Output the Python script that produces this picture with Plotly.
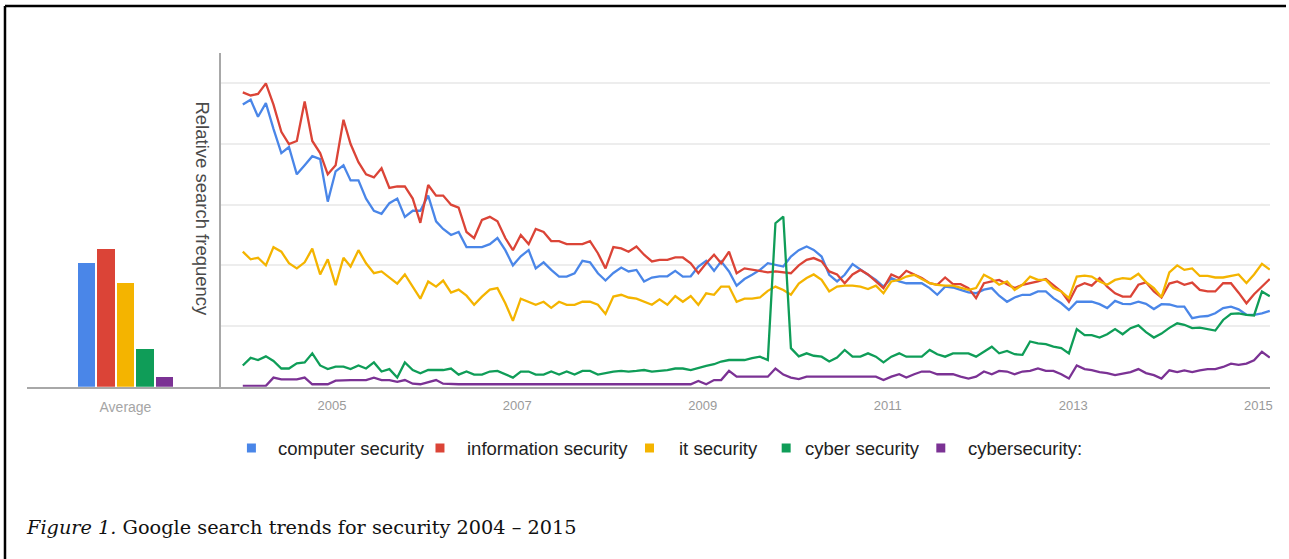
import plotly.graph_objects as go

W, H = 1289, 559

# ---------------- data (monthly, Jan 2004 - Feb 2015) ----------------
months = [f"{2004 + k // 12}-{k % 12 + 1:02d}-15" for k in range(134)]

computer_security = [
    93, 94.6, 89, 93.5, 85, 77, 79, 70, 73, 76, 75, 61, 71, 73, 68, 68, 62, 58, 57, 60.5, 62, 56, 58, 58, 63,
    54.5, 52, 50, 51, 46, 46, 46, 47, 49, 45, 40, 43, 45, 39, 41, 38.5, 36.3, 36.3, 37.4, 41.5, 41, 37.4, 35, 37.5,
    39.3, 38, 38.5, 34.7, 36, 36.4, 36.4, 38.2, 36.3, 36.4, 39.6, 41.5, 38.2, 41.3, 38, 33.3, 35.5, 36.9, 38.5, 40.7, 40.2, 39.6, 42.9,
    45, 46.2, 45.1, 42.9, 36.9, 34.7, 36.9, 40.4, 38.5, 36.9, 35.2, 33, 35.8, 34.7, 34.1, 34.1, 34.1, 32.5, 30.3, 33, 32.7, 31.9, 31.1, 30.8,
    32, 32.5, 30, 28, 29.4, 30.3, 30.3, 31.4, 31.4, 29.2, 27.5, 25.3, 28, 28, 28, 27.2, 25.9, 28.3, 27.3, 27.2, 28, 27.3, 25.6, 27.2, 27.1,
    26.4, 26.4, 22.6, 23.1, 23.3, 24.2, 25.9, 26.4, 25.5, 23.7, 23.7, 24.2, 25,
]
information_security = [
    97, 96, 96.5, 100, 93, 84, 80, 81, 94, 81, 77, 70, 73, 88, 80, 74, 70, 69, 72, 65.5, 66, 66, 62, 54, 66.5,
    63, 63, 60, 59, 51, 49, 55, 56, 54.5, 49, 45, 50, 47, 52, 51, 48, 48, 47, 47, 47, 48, 44, 39, 46,
    45.6, 44.5, 46.2, 43.5, 41.3, 41.8, 41.8, 42.6, 42.6, 40.7, 37.4, 40.7, 43.5, 40.7, 44.5, 37.4, 39, 38.5, 38, 37.7, 38, 37.7, 37.4,
    40, 41.8, 42.4, 41.3, 38, 37, 34.1, 37, 38.5, 37, 34.7, 32.5, 37, 35.8, 38.2, 37, 35.8, 34.1, 33.6, 36, 33.8, 33.8, 32.5, 29.2,
    34.1, 34.7, 35.2, 33.8, 32.5, 33.6, 34.1, 34.7, 35.5, 33.6, 31.4, 28, 33, 34.1, 33.3, 35.8, 33, 30.8, 29.7, 29.7, 33.6, 34.4, 31.4, 29.4, 34,
    34.7, 33.6, 34.3, 31.9, 31.4, 31.4, 34.1, 34.1, 31, 27.5, 30.5, 33, 35.5,
]
it_security = [
    44.5, 42, 42.5, 40, 46, 44.5, 40.7, 39, 41, 45.5, 37, 42, 33.5, 42.5, 39.6, 45, 40.7, 37.4, 38, 36, 34, 37, 33, 29, 34.7,
    33, 35, 31, 32, 30, 27, 29.7, 32, 32.5, 27.5, 21.7, 29, 28, 27, 28, 26, 28, 27, 27, 28, 28, 27, 24, 29.7,
    30.3, 29.4, 29, 28, 27, 28.8, 27, 29.9, 28, 29.9, 27, 30.8, 30.3, 33, 33, 28, 29, 29, 29.4, 31.6, 33, 31.9, 30.3,
    34, 35.8, 37, 35.2, 31.4, 33, 33.3, 33.3, 33, 32.2, 33.3, 30.8, 34.7, 35.2, 36.3, 36.9, 35.5, 34.1, 33.6, 33.3, 33.3, 32.7, 31.9, 32.5,
    36.9, 35.5, 33.6, 34.7, 31.9, 33.6, 36.3, 35.2, 35.2, 32.5, 31.4, 29.2, 36.3, 36.6, 36.3, 34.7, 33.6, 35.2, 35.8, 35.5, 37.2, 34.5, 32.5, 29.5, 37.7,
    40, 38.5, 39, 36.5, 36.5, 36, 36, 36.5, 37, 34.2, 37, 40.5, 38.6,
]
cyber_security = [
    7, 9.5, 8.8, 10, 8.5, 6, 6, 7.7, 8, 11, 7, 5.8, 6.6, 6.6, 5.8, 7, 6, 8, 5, 5.8, 3, 8, 5.5, 4.4, 5.5,
    5.5, 5.5, 6, 4, 5, 4, 4, 5, 5.2, 4, 3, 5, 5, 4, 4, 5, 4, 5, 4, 5.2, 5.2, 4, 4.6, 5,
    5.2, 5, 5.2, 5.5, 5, 5.2, 5.5, 6, 6, 5.5, 6.3, 6.9, 7.4, 8.3, 8.8, 8.8, 8.8, 9.4, 9.9, 8.8, 53.9, 56.1, 12.7,
    10, 11, 10.2, 9.9, 8.3, 9.6, 12.1, 9.9, 9.9, 11, 9.9, 8, 9.9, 11, 9.9, 9.9, 9.9, 12.1, 10.7, 9.9, 11, 11, 11, 9.9,
    11.6, 13.2, 11, 11.8, 10.7, 10.5, 14.9, 14.3, 14, 13.2, 12.7, 11, 19, 17, 17, 16.2, 17.3, 19, 17.3, 19.3, 20.2, 18, 16.2, 17.5, 19.4,
    20.9, 20.4, 19.3, 19.5, 19, 18.5, 22, 24, 24.2, 23.7, 23.5, 31.4, 29.8,
]
cybersecurity = [
    0.3, 0.3, 0.3, 0.3, 3, 2.4, 2.4, 2.4, 3, 0.8, 0.8, 0.8, 2, 2.2, 2.2, 2.2, 2.2, 3, 2.2, 2.2, 1.6, 2.2, 1, 0.8, 1.5,
    2.2, 1, 0.8, 0.8, 0.8, 0.8, 0.8, 0.8, 0.8, 0.8, 0.8, 0.8, 0.8, 0.8, 0.8, 0.8, 0.8, 0.8, 0.8, 0.8, 0.8, 0.8, 0.8, 0.8,
    0.8, 0.8, 0.8, 0.8, 0.8, 0.8, 0.8, 0.8, 0.8, 0.8, 1.9, 0.8, 2.2, 2.2, 5.2, 3.3, 3.3, 3.3, 3.3, 3.3, 6, 4, 3,
    2.5, 3.3, 3.3, 3.3, 3.3, 3.3, 3.3, 3.3, 3.3, 3.3, 3.3, 2.2, 3.3, 4.1, 3, 4.1, 5, 5, 4.1, 4.1, 4.1, 3.3, 2.7, 3.3,
    5, 4.1, 5.2, 5, 4.1, 5, 5.2, 6, 5.2, 5.2, 4.1, 2.7, 7, 5.8, 5.5, 4.8, 4.5, 3.8, 4.3, 4.8, 5.8, 4.5, 3.8, 2.7, 5.4,
    4.8, 5.4, 4.8, 5.4, 5.8, 5.8, 6.5, 7.6, 7.2, 7.6, 8.7, 11.5, 9.6,
]

series_names = ["computer security", "information security", "it security", "cyber security", "cybersecurity:"]
series_values = [computer_security, information_security, it_security, cyber_security, cybersecurity]
series_colors = ["#4a86e8", "#db4437", "#f4b400", "#0f9d58", "#7b3294"]

average_values = [40.7, 45.3, 34.3, 12.3, 3.1]
average_label = ["Average"]

year_ticks = ["2005-01-01", "2007-01-01", "2009-01-01", "2011-01-01", "2013-01-01", "2015-01-01"]
year_labels = ["2005", "2007", "2009", "2011", "2013", "2015"]

for s in series_values:
    assert len(s) == len(months)


def px(x):
    return x / W


def py(y):
    return 1 - y / H


fig = go.Figure()

# average bars
fig.add_trace(go.Bar(
    x=list(range(len(average_values))), y=average_values,
    marker=dict(color=series_colors, line=dict(width=0)),
    width=0.9, xaxis="x2", yaxis="y2", showlegend=False, hoverinfo="skip",
))

# trend lines
for name, vals, col in zip(series_names, series_values, series_colors):
    fig.add_trace(go.Scatter(
        x=months, y=vals, mode="lines", name=name,
        line=dict(color=col, width=2.3), showlegend=False,
    ))

y_dom = [py(386.7), py(53)]

fig.update_layout(
    width=W, height=H,
    margin=dict(l=0, r=0, t=0, b=0),
    paper_bgcolor="white", plot_bgcolor="white",
    font=dict(family="Liberation Sans, Arial, sans-serif"),
    xaxis=dict(
        type="date", domain=[px(222), px(1273)],
        range=["2003-10-23", "2015-02-16"],
        showgrid=False, zeroline=False,
        showline=True, linecolor="#a8a8a8", linewidth=2,
        tickvals=year_ticks, ticktext=year_labels,
        ticks="outside", ticklen=6, tickcolor="rgba(0,0,0,0)",
        tickfont=dict(size=13, color="#9a9a9a"),
        anchor="y",
    ),
    yaxis=dict(
        domain=y_dom, range=[0, 110],
        tickvals=[20, 40, 60, 80, 100], showticklabels=False, ticks="",
        showgrid=True, gridcolor="#ededed", gridwidth=1.5,
        zeroline=False, showline=True, linecolor="#a8a8a8", linewidth=2,
        anchor="x",
    ),
    xaxis2=dict(
        domain=[px(27), px(221)], range=[-3.04, 6.86], anchor="y2",
        showgrid=False, zeroline=False,
        showline=True, linecolor="#a8a8a8", linewidth=2,
        tickvals=[2], ticktext=average_label,
        ticks="outside", ticklen=6, tickcolor="rgba(0,0,0,0)",
        tickfont=dict(size=14, color="#a5a5a5"),
    ),
    yaxis2=dict(
        domain=y_dom, range=[0, 110], anchor="x2",
        showgrid=False, zeroline=False, showline=False,
        showticklabels=False, ticks="",
    ),
    bargap=0,
)

annotations = []
shapes = []

# y-axis title (reads top to bottom)
annotations.append(dict(
    text="Relative search frequency", x=px(203), y=py(209),
    xref="paper", yref="paper", showarrow=False, textangle=90,
    xanchor="center", yanchor="middle",
    font=dict(size=18.5, color="#4a4a4a", family="Liberation Sans, Arial, sans-serif"),
))

# legend (squares + labels)
legend_sq_x = [252, 441, 651, 788, 943]
legend_txt_x = [277, 466, 679, 805, 968]
legend_y = 448
for name, col, sx, tx in zip(series_names, series_colors, legend_sq_x, legend_txt_x):
    shapes.append(dict(
        type="rect", xref="paper", yref="paper",
        x0=px(sx - 4.5), x1=px(sx + 4.5), y0=py(legend_y + 4.5), y1=py(legend_y - 4.5),
        fillcolor=col, line=dict(width=0),
    ))
    annotations.append(dict(
        text=name, x=px(tx), y=py(legend_y), xref="paper", yref="paper",
        showarrow=False, xanchor="left", yanchor="middle",
        font=dict(size=18.5, color="#222222", family="Liberation Sans, Arial, sans-serif"),
    ))

# caption
annotations.append(dict(
    text="<i>Figure 1.</i> Google search trends for security 2004 \u2013 2015",
    x=px(24), y=py(527), xref="paper", yref="paper", showarrow=False,
    xanchor="left", yanchor="middle",
    font=dict(size=19.3, color="#111111", family="DejaVu Serif, serif"),
))

# page frame (top and left rules)
shapes.append(dict(type="line", xref="paper", yref="paper",
                   x0=px(5), x1=1, y0=py(6), y1=py(6),
                   line=dict(color="black", width=2.5)))
shapes.append(dict(type="line", xref="paper", yref="paper",
                   x0=px(5), x1=px(5), y0=py(6), y1=0,
                   line=dict(color="black", width=2.5)))
# white cover on far right edge (keeps page edge clean)
shapes.append(dict(type="rect", xref="paper", yref="paper",
                   x0=px(1277), x1=1, y0=0, y1=py(9),
                   fillcolor="white", line=dict(width=0), layer="above"))

fig.update_layout(annotations=annotations, shapes=shapes)

fig.write_html(
    "out.html",
    config=dict(displayModeBar=False),
    post_script=(
        "document.documentElement.style.overflow='hidden';"
        "document.documentElement.style.margin='0';"
        "document.body.style.margin='0';document.body.style.padding='0';"
        "document.body.style.overflow='hidden';"
    ),
)
